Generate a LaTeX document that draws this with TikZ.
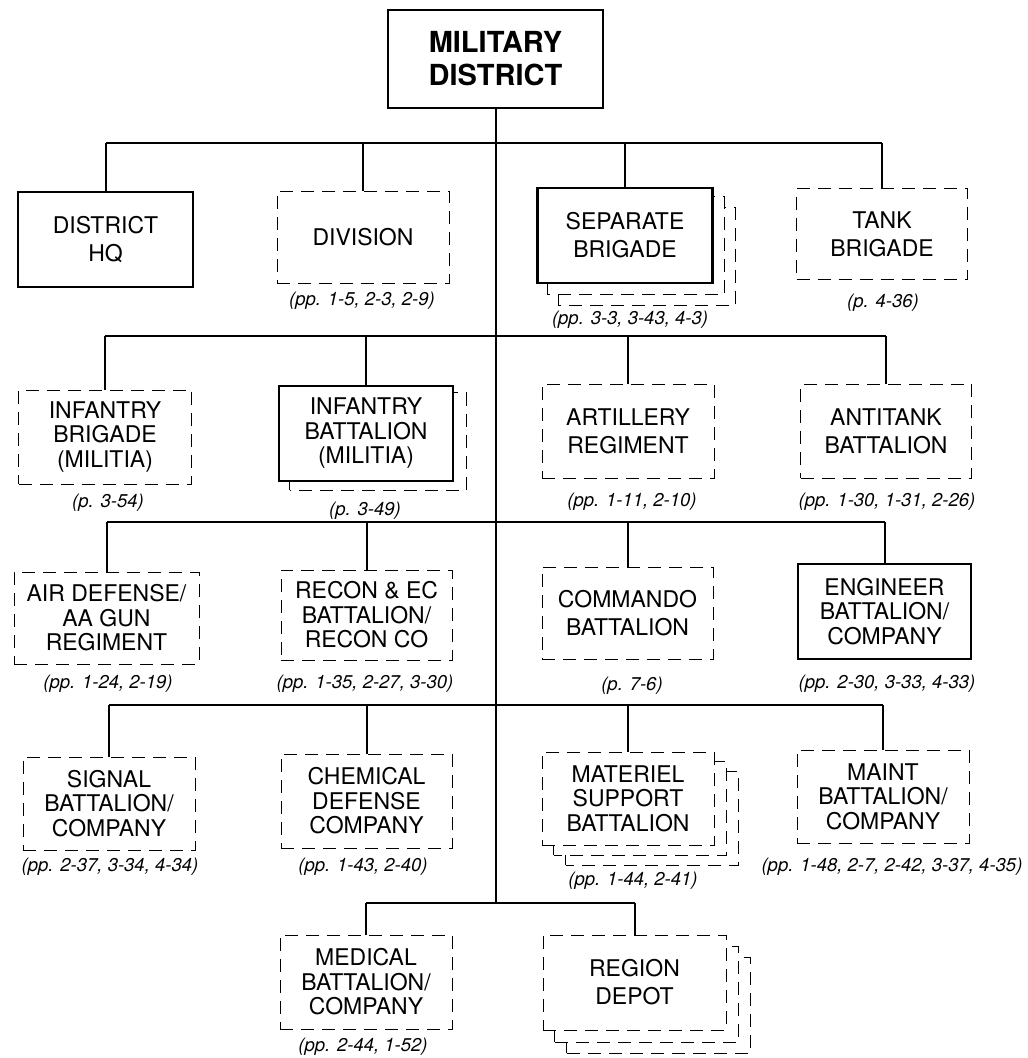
\documentclass[tikz,border=0pt]{standalone}
\usepackage{fontspec}
\setmainfont{TeX Gyre Heros}
\usetikzlibrary{backgrounds}
\begin{document}
\begin{tikzpicture}[x=1pt,y=-1pt,
 sbox/.style={draw, line width=2.2pt, fill=white, inner sep=0pt, align=center, font=\fontsize{23}{28}\selectfont},
 dbox/.style={draw, line width=0.9pt, dash pattern=on 13pt off 8pt, fill=white, inner sep=0pt, align=center, font=\fontsize{23}{28}\selectfont},
 three/.style={font=\fontsize{23}{24.5}\selectfont},
 ref/.style={font=\fontsize{18.5}{20}\selectfont\itshape, inner sep=0pt},
 link/.style={line width=2pt},
 bar/.style={line width=2.6pt},
 ghost/.style={draw, line width=0.9pt, dash pattern=on 13pt off 8pt, fill=white},
 sz/.style 2 args={minimum width=#1pt, minimum height=#2pt}
]
\useasboundingbox (0,0) rectangle (1028,1058);

% top
\node[draw, line width=2.2pt, fill=white, inner sep=0pt, align=center, sz={215}{98},
      font=\bfseries\fontsize{29}{33}\selectfont] (mil) at (495.5,59) {MILITARY\\DISTRICT};

% row 1
\node[sbox, sz={175}{95}] (hq)   at (105.5,239.5) {DISTRICT\\HQ};
\node[dbox, sz={172}{92}] (div)  at (363,237)     {DIVISION};
\node[sbox, sz={175}{95}] (sep)  at (625,235.5)   {SEPARATE\\BRIGADE};
\node[dbox, sz={171}{91}] (tank) at (882,234)     {TANK\\BRIGADE};

% row 2
\node[dbox, three, sz={173}{94}] (infbde) at (105,437)   {INFANTRY\\BRIGADE\\(MILITIA)};
\node[sbox, three, sz={174}{95}] (infbn)  at (366,433.5) {INFANTRY\\BATTALION\\(MILITIA)};
\node[dbox, sz={172}{94}] (art) at (628,431) {ARTILLERY\\REGIMENT};
\node[dbox, sz={171}{94}] (at)  at (886,431) {ANTITANK\\BATTALION};

% row 3
\node[dbox, three, sz={185}{92}] (ad)    at (106.5,618)   {AIR DEFENSE/\\AA GUN\\REGIMENT};
\node[dbox, three, sz={171}{90}] (recon) at (366.5,615)   {RECON \& EC\\BATTALION/\\RECON CO};
\node[dbox, sz={171}{92}]        (cmd)   at (627.5,613)   {COMMANDO\\BATTALION};
\node[sbox, three, sz={173}{95}] (eng)   at (884.5,611.5) {ENGINEER\\BATTALION/\\COMPANY};

% row 4
\node[dbox, three, sz={172}{93}] (sig)   at (109,803.5)   {SIGNAL\\BATTALION/\\COMPANY};
\node[dbox, three, sz={171}{94}] (chem)  at (366.5,801)   {CHEMICAL\\DEFENSE\\COMPANY};
\node[dbox, three, sz={172}{93}] (mat)   at (628,798.5)   {MATERIEL\\SUPPORT\\BATTALION};
\node[dbox, three, sz={172}{93}] (maint) at (883,796.5)   {MAINT\\BATTALION/\\COMPANY};

% row 5
\node[dbox, three, sz={172}{94}] (med) at (366,982)     {MEDICAL\\BATTALION/\\COMPANY};
\node[dbox, sz={183}{95}]        (reg) at (634.5,982.5) {REGION\\DEPOT};

% stacked copies
\begin{pgfonlayer}{background}
\draw[ghost] ([shift={(22,21)}]sep.south west) rectangle ([shift={(22,21)}]sep.north east);
\draw[ghost] ([shift={(11,10)}]sep.south west) rectangle ([shift={(11,10)}]sep.north east);
\draw[ghost] ([shift={(12,8)}]infbn.south west) rectangle ([shift={(12,8)}]infbn.north east);
\draw[ghost] ([shift={(24,20)}]mat.south west) rectangle ([shift={(24,20)}]mat.north east);
\draw[ghost] ([shift={(12,10)}]mat.south west) rectangle ([shift={(12,10)}]mat.north east);
\draw[ghost] ([shift={(24,23)}]reg.south west) rectangle ([shift={(24,23)}]reg.north east);
\draw[ghost] ([shift={(12,12)}]reg.south west) rectangle ([shift={(12,12)}]reg.north east);
\end{pgfonlayer}

% labels
\node[ref] (ldiv)   at (362,301)  {(pp. 1-5, 2-3, 2-9)};
\node[ref] (lsep)   at (630,320)  {(pp. 3-3, 3-43, 4-3)};
\node[ref] (ltank)  at (883,303)  {(p. 4-36)};
\node[ref] (linfbde) at (108,503) {(p. 3-54)};
\node[ref] (linfbn) at (365,511)  {(p. 3-49)};
\node[ref] (lart)   at (632,502)  {(pp. 1-11, 2-10)};
\node[ref] (lat)    at (887,502)  {(pp. 1-30, 1-31, 2-26)};
\node[ref] (lad)    at (108,684)  {(pp. 1-24, 2-19)};
\node[ref] (lrecon) at (365,684)  {(pp. 1-35, 2-27, 3-30)};
\node[ref] (lcmd)   at (632,686)  {(p. 7-6)};
\node[ref] (leng)   at (887,684)  {(pp. 2-30, 3-33, 4-33)};
\node[ref] (lsig)   at (110,867)  {(pp. 2-37, 3-34, 4-34)};
\node[ref] (lchem)  at (363,867)  {(pp. 1-43, 2-40)};
\node[ref] (lmat)   at (633,881)  {(pp. 1-44, 2-41)};
\node[ref] (lmaint) at (892,867)  {(pp. 1-48, 2-7, 2-42, 3-37, 4-35)};
\node[ref] (lmed)   at (363,1047) {(pp. 2-44, 1-52)};

% bars
\coordinate (b1) at (0,143);
\coordinate (b2) at (0,336);
\coordinate (b3) at (0,522);
\coordinate (b4) at (0,705);
\coordinate (b5) at (0,903);

\draw[link] (mil.south) -- (mil.south |- b5);

\draw[bar] (hq.north |- b1) -- (tank.north |- b1);
\draw[bar] (infbde.north |- b2) -- (at.north |- b2);
\draw[bar] (ad.north |- b3) -- (eng.north |- b3);
\draw[bar] (sig.north |- b4) -- (maint.north |- b4);
\draw[bar] (med.north |- b5) -- (reg.north |- b5);

\foreach \n/\b in {hq/b1,div/b1,sep/b1,tank/b1,infbde/b2,infbn/b2,art/b2,at/b2,ad/b3,recon/b3,cmd/b3,eng/b3,sig/b4,chem/b4,mat/b4,maint/b4,med/b5,reg/b5}
  \draw[link] (\n.north) -- (\n.north |- \b);
\end{tikzpicture}
\end{document}
